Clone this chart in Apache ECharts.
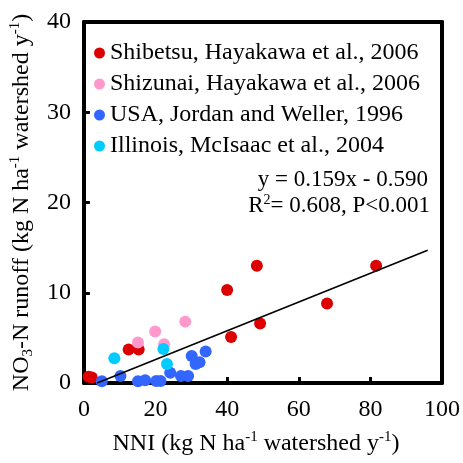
<!DOCTYPE html>
<html><head><meta charset="utf-8">
<script src="https://cdn.jsdelivr.net/npm/echarts@6/dist/echarts.min.js"></script>
<style>html,body{margin:0;padding:0;background:#fff}#c{width:463px;height:463px}</style>
</head><body><div id="c"></div>
<script>
const seriesNames = ['Shibetsu, Hayakawa et al., 2006', 'Shizunai, Hayakawa et al., 2006', 'USA, Jordan and Weller, 1996', 'Illinois, McIsaac et al., 2004'];
const seriesColors = ['#dd0000', '#ff99cc', '#3366ff', '#00ccff'];
const shibetsuX = [1.3, 2.2, 12.5, 15.3, 40.0, 41.1, 48.3, 49.2, 67.9, 81.6];
const shibetsuY = [0.7, 0.6, 3.7, 3.7, 10.3, 5.1, 13.0, 6.6, 8.8, 13.0];
const shizunaiX = [15.1, 19.9, 22.4, 28.3];
const shizunaiY = [4.5, 5.7, 4.3, 6.8];
const usaX = [5.0, 10.2, 15.1, 17.1, 20.2, 21.4, 24.1, 27.1, 29.1, 30.1, 31.2, 32.3, 34.0];
const usaY = [0.2, 0.77, 0.2, 0.3, 0.22, 0.22, 1.13, 0.77, 0.77, 3.0, 2.1, 2.3, 3.5];
const illinoisX = [8.5, 22.2, 23.2];
const illinoisY = [2.75, 3.77, 2.1];
const fitX = [3.7, 96];
const fitY = [0.0, 14.7];
const xTicks = [0, 20, 40, 60, 80, 100];
const yTicks = [0, 10, 20, 30, 40];

const FONT = 'Liberation Serif';
const pair = (xs, ys) => xs.map((x, i) => [x, ys[i]]);
const groups = [[shibetsuX, shibetsuY], [shizunaiX, shizunaiY], [usaX, usaY], [illinoisX, illinoisY]];
const supStyle = {fontFamily: FONT, fontSize: 15, lineHeight: 16, verticalAlign: 'top', color: '#000'};
const subStyle = {fontFamily: FONT, fontSize: 15, lineHeight: 17, verticalAlign: 'bottom', color: '#000'};
const baseStyle = {fontFamily: FONT, fontSize: 24, lineHeight: 28, color: '#000'};
const eqStyle = {fontFamily: FONT, fontSize: 23, lineHeight: 26, color: '#000'};
const eqSup = {fontFamily: FONT, fontSize: 14, lineHeight: 15, verticalAlign: 'top', color: '#000'};

const series = groups.map((g, i) => ({
  name: seriesNames[i], type: 'scatter', symbol: 'circle', symbolSize: 12,
  itemStyle: {color: seriesColors[i], opacity: 1}, data: pair(g[0], g[1]), z: 2 + i
}));
series.push({
  name: 'fit', type: 'line', data: pair(fitX, fitY), symbol: 'none',
  lineStyle: {color: '#000', width: 1.6}, z: 10, silent: true
});

const frameAxis = {
  show: true, axisLine: {show: true, onZero: false, lineStyle: {color: '#000', width: 4}},
  axisTick: {show: false}, axisLabel: {show: false}, splitLine: {show: false}
};

const chart = echarts.init(document.getElementById('c'));
chart.setOption({
  animation: false,
  backgroundColor: '#fff',
  grid: {left: 82, right: 19, top: 22, bottom: 77},
  legend: {
    orient: 'vertical', left: 89, top: 36, itemWidth: 11, itemHeight: 11, itemGap: 7,
    icon: 'circle', data: seriesNames,
    textStyle: {fontFamily: FONT, fontSize: 24, color: '#000'}
  },
  xAxis: [{
    type: 'value', min: xTicks[0], max: xTicks[xTicks.length - 1], interval: 20,
    splitLine: {show: false},
    axisLine: {show: true, onZero: false, lineStyle: {color: '#000', width: 4}},
    axisTick: {show: true, inside: true, length: 6, lineStyle: {color: '#000', width: 3}},
    axisLabel: {fontFamily: FONT, fontSize: 24, color: '#000', margin: 15},
    name: 'NNI (kg N ha{sup|-1} watershed y{sup|-1})',
    nameLocation: 'middle', nameGap: 47,
    nameTextStyle: Object.assign({}, baseStyle, {padding: [0, 14, 0, 0], rich: {sup: supStyle}})
  }, Object.assign({type: 'value', position: 'top', min: xTicks[0], max: xTicks[xTicks.length - 1]}, frameAxis)],
  yAxis: [{
    type: 'value', min: yTicks[0], max: yTicks[yTicks.length - 1], interval: 10,
    splitLine: {show: false},
    axisLine: {show: true, onZero: false, lineStyle: {color: '#000', width: 4}},
    axisTick: {show: true, inside: true, length: 6, lineStyle: {color: '#000', width: 3}},
    axisLabel: {fontFamily: FONT, fontSize: 24, color: '#000', margin: 13},
    name: 'NO{sub|3}-N runoff (kg N ha{sup|-1} watershed y{sup|-1})',
    nameLocation: 'middle', nameGap: 46,
    nameTextStyle: Object.assign({}, baseStyle, {rich: {sup: supStyle, sub: subStyle}})
  }, Object.assign({type: 'value', position: 'right', min: yTicks[0], max: yTicks[yTicks.length - 1]}, frameAxis)],
  graphic: [
    {type: 'text', right: 35, top: 168, style: {text: '{b|y = 0.159x - 0.590}', fill: '#000', rich: {b: eqStyle}}},
    {type: 'text', right: 33, top: 193, style: {
      text: '{b|R}{sup|2}{b|= 0.608, P<0.001}', fill: '#000',
      rich: {b: eqStyle, sup: eqSup}
    }}
  ],
  series: series
});
</script>
</body></html>
